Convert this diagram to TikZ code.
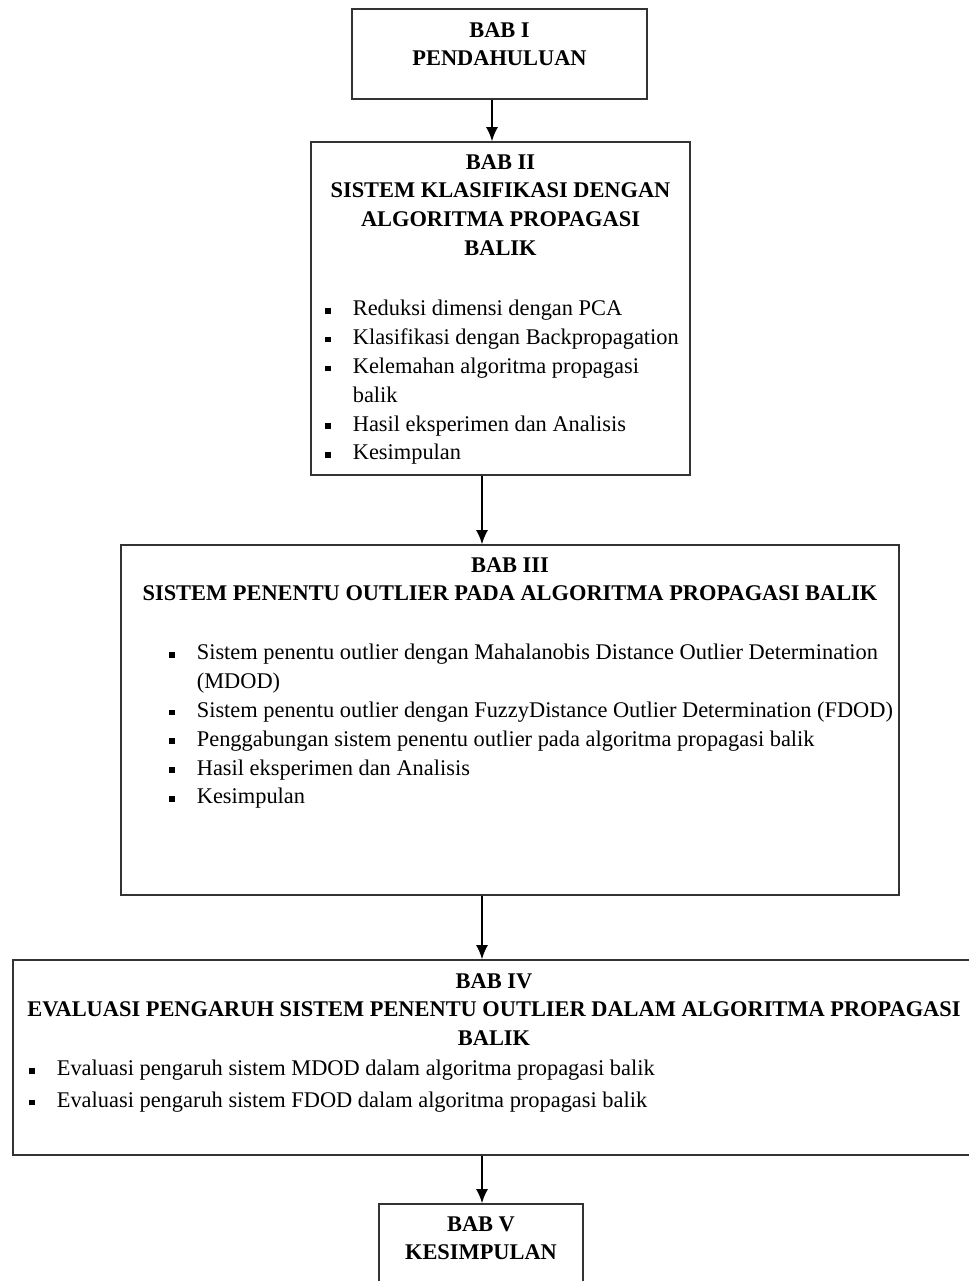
\documentclass[tikz,border=0pt]{standalone}
\usepackage{fontspec}
\setmainfont{Liberation Serif}
\usepackage{tikz}
\usetikzlibrary{positioning,calc,arrows.meta}

\newcommand{\sqbul}{\rule[1.3pt]{3.2pt}{3.2pt}}
\newcommand{\itm}[1]{\makebox[0.55cm][l]{\sqbul}#1}
\newcommand{\cont}[1]{\hspace*{0.55cm}#1}

\begin{document}
\begin{tikzpicture}[x=0.02cm,y=-0.02cm,
    box/.style={draw=black!80, line width=1pt, inner sep=0pt},
    title/.style={font=\bfseries\fontsize{12.75}{16.4}\selectfont, align=center, inner sep=0pt, anchor=north},
    items/.style={font=\fontsize{12.75}{16.4}\selectfont, align=left, inner sep=0pt, anchor=north west},
    arr/.style={-{Latex[length=2.8mm,width=2.4mm]}, line width=0.9pt}]
    \useasboundingbox (0,0) rectangle (969,1281);
    \clip (0,0) rectangle (969,1281);

    % chapter boxes
    \node[box, minimum width=5.9cm, minimum height=1.8cm] (bab1) at (499.5,54) {};
    \node[box, minimum width=7.58cm, minimum height=6.66cm] (bab2) at (500.5,308.5) {};
    \node[box, minimum width=15.56cm, minimum height=7cm] (bab3) at (510,720) {};
    \node[box, minimum width=19.24cm, minimum height=3.9cm] (bab4) at (494,1057.5) {};
    \node[box, minimum width=4.08cm, minimum height=2.32cm] (bab5) at (481,1262) {};

    % arrows
    \coordinate (axA) at (492,0);
    \coordinate (axB) at (482,0);
    \draw[arr] (bab1.south -| axA) -- (bab2.north -| axA);
    \draw[arr] (bab2.south -| axB) -- (bab3.north -| axB);
    \draw[arr] (bab3.south -| axB) -- (bab4.north -| axB);
    \draw[arr] (bab4.south -| axB) -- (bab5.north -| axB);

    % texts
    \node[title] (t1) at (499.5,22) {BAB I\\PENDAHULUAN};

    \node[title] (t2) at (500.5,154) {BAB II\\SISTEM KLASIFIKASI DENGAN\\ALGORITMA PROPAGASI\\BALIK};
    \node[items] (l2) at (325,300) {\itm{Reduksi dimensi dengan PCA}\\
        \itm{Klasifikasi dengan Backpropagation}\\
        \itm{Kelemahan algoritma propagasi}\\
        \cont{balik}\\
        \itm{Hasil eksperimen dan Analisis}\\
        \itm{Kesimpulan}};

    \node[title] (t3) at (510,557) {BAB III\\SISTEM PENENTU OUTLIER PADA ALGORITMA PROPAGASI BALIK};
    \node[items] (l3) at (169,644) {\itm{Sistem penentu outlier dengan Mahalanobis Distance Outlier Determination}\\
        \cont{(MDOD)}\\
        \itm{Sistem penentu outlier dengan FuzzyDistance Outlier Determination (FDOD)}\\
        \itm{Penggabungan sistem penentu outlier pada algoritma propagasi balik}\\
        \itm{Hasil eksperimen dan Analisis}\\
        \itm{Kesimpulan}};

    \node[title] (t4) at (494,973) {BAB IV\\EVALUASI PENGARUH SISTEM PENENTU OUTLIER DALAM ALGORITMA PROPAGASI\\BALIK};
    \node[items, font=\fontsize{12.75}{18.1}\selectfont] (l4) at (29,1060) {\itm{Evaluasi pengaruh sistem MDOD dalam algoritma propagasi balik}\\
        \itm{Evaluasi pengaruh sistem FDOD dalam algoritma propagasi balik}};

    \node[title] (t5) at (481,1216) {BAB V\\KESIMPULAN};
\end{tikzpicture}
\end{document}
